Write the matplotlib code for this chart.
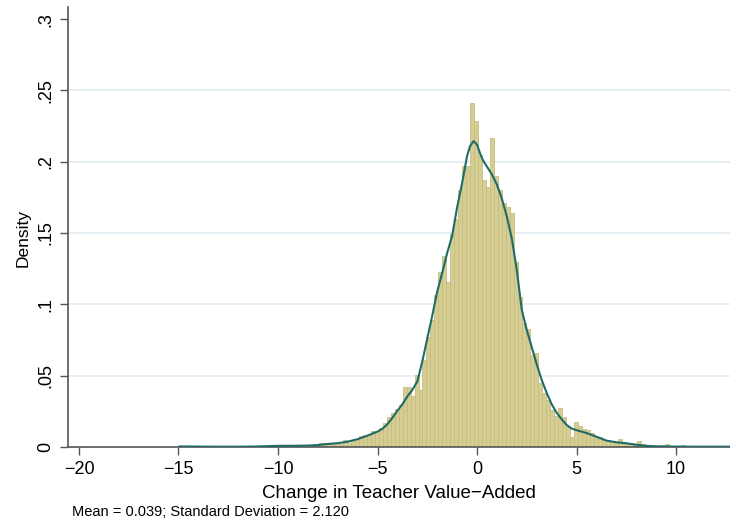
import numpy as np
import matplotlib
matplotlib.use("Agg")
import matplotlib.pyplot as plt

plt.rcParams["font.family"] = ["Liberation Sans", "DejaVu Sans"]

# histogram: bins of width 0.2 starting at the sample minimum
bin_start = -14.94
bin_width = 0.2
density = [
    0.0007, 0, 0, 0, 0, 0, 0, 0, 0, 0,
    0, 0, 0, 0, 0, 0, 0, 0, 0, 0.0007,
    0, 0, 0, 0.0007, 0.0014, 0.0014, 0.0007, 0, 0.0012, 0.0007,
    0, 0, 0.0007, 0.0015, 0.0015, 0.0028, 0.0030, 0.0025, 0.0025, 0.0025,
    0.0020, 0.0049, 0.0030, 0.0040, 0.0055, 0.0080, 0.0084, 0.0085, 0.0114, 0.0114,
    0.0130, 0.0166, 0.0213, 0.0240, 0.0265, 0.0295, 0.0423, 0.0423, 0.0360, 0.0505,
    0.0400, 0.0610, 0.0774, 0.0890, 0.1066, 0.1230, 0.1340, 0.1160, 0.1490, 0.1600,
    0.1800, 0.1970, 0.1970, 0.2415, 0.2286, 0.2050, 0.1870, 0.1826, 0.2165, 0.1900,
    0.1800, 0.1710, 0.1680, 0.1640, 0.1300, 0.1050, 0.0870, 0.0830, 0.0645, 0.0660,
    0.0450, 0.0380, 0.0330, 0.0260, 0.0220, 0.0270, 0.0210, 0.0140, 0.0070, 0.0178,
    0.0150, 0.0124, 0.0120, 0.0096, 0.0080, 0.0070, 0.0049, 0.0040, 0.0035, 0.0030,
    0.0056, 0.0037, 0.0025, 0.0020, 0.0015, 0.0042, 0.0020, 0.0010, 0.0008, 0.0005,
    0.0005, 0.0008, 0.0023, 0.0005, 0, 0.0005, 0.0016, 0, 0.0005, 0,
    0, 0, 0.0005, 0, 0, 0, 0, 0.0007,
]

# kernel density estimate
kde_x = [-14.94, -14, -13, -12, -11, -10, -9, -8.5, -8, -7.5, -7, -6.5, -6, -5.5,
         -5, -4.75, -4.5, -4.25, -4, -3.75, -3.5, -3.25, -3, -2.75, -2.5, -2.25,
         -2, -1.75, -1.5, -1.25, -1, -0.75, -0.5, -0.35, -0.17, 0, 0.15, 0.3,
         0.5, 0.75, 1, 1.25, 1.5, 1.75, 2, 2.25, 2.5, 2.75, 3, 3.25, 3.5, 3.75,
         4, 4.25, 4.5, 4.75, 5, 5.5, 6, 6.5, 7, 7.5, 8, 8.5, 9, 9.5, 10, 11, 12,
         12.66]
kde_y = [0.0004, 0.0003, 0.0002, 0.0002, 0.0004, 0.0008, 0.0009, 0.0010, 0.0014,
         0.0021, 0.0027, 0.0037, 0.0055, 0.0080, 0.0108, 0.0128, 0.0160, 0.0205,
         0.0255, 0.0300, 0.0355, 0.0400, 0.0460, 0.0600, 0.0760, 0.0920, 0.1090,
         0.1220, 0.1360, 0.1480, 0.1680, 0.1850, 0.2040, 0.2110, 0.2145, 0.2120,
         0.2060, 0.2010, 0.1966, 0.1910, 0.1840, 0.1740, 0.1615, 0.1460, 0.1240,
         0.0960, 0.0820, 0.0700, 0.0580, 0.0470, 0.0380, 0.0300, 0.0240, 0.0195,
         0.0155, 0.0130, 0.0118, 0.0098, 0.0072, 0.0045, 0.0033, 0.0026, 0.0016,
         0.0008, 0.0005, 0.0004, 0.0003, 0.0002, 0.0002, 0.0002]

x_ticks = [-20, -15, -10, -5, 0, 5, 10]
y_ticks = [0, 0.05, 0.1, 0.15, 0.2, 0.25, 0.3]
y_ticklabels = ["0", ".05", ".1", ".15", ".2", ".25", ".3"]
note = "Mean = 0.039; Standard Deviation = 2.120"

W, H = 730, 526
fig = plt.figure(figsize=(W / 100, H / 100), dpi=100)
ax = fig.add_axes([68 / W, 1 - 447 / H, 662 / W, 440 / H])

left_edges = bin_start + bin_width * np.arange(len(density))
ax.bar(left_edges, density, width=bin_width, align="edge",
       color="#d5cd91", edgecolor="#c6bd80", linewidth=0.6, zorder=2)
ax.plot(kde_x, kde_y, color="#1f6b68", linewidth=1.5, zorder=3)

ax.set_xlim(-20.55, 12.71)
ax.set_ylim(0, 0.3085)

for yv in y_ticks[1:-1]:
    ax.axhline(yv, color="#e6eff4", linewidth=1.4, zorder=1)

ax.set_xticks(x_ticks)
ax.set_yticks(y_ticks)
ax.set_yticklabels(y_ticklabels, rotation=90, va="center")
ax.tick_params(axis="both", direction="out", length=6, width=1,
               color="#555555", labelsize=13, pad=4)

for side in ["top", "right"]:
    ax.spines[side].set_visible(False)
for side in ["left", "bottom"]:
    ax.spines[side].set_color("#555555")
    ax.spines[side].set_linewidth(1.2)

ax.set_xlabel("Change in Teacher Value\u2212Added", fontsize=13.5, labelpad=5)
ax.set_ylabel("Density", fontsize=12.5)
ax.yaxis.set_label_coords(-0.057, 0.475)

fig.text(72 / W, 1 - 512 / H, note, fontsize=10.5, va="center", ha="left")

fig.savefig("out.png", dpi=100)
plt.close(fig)
